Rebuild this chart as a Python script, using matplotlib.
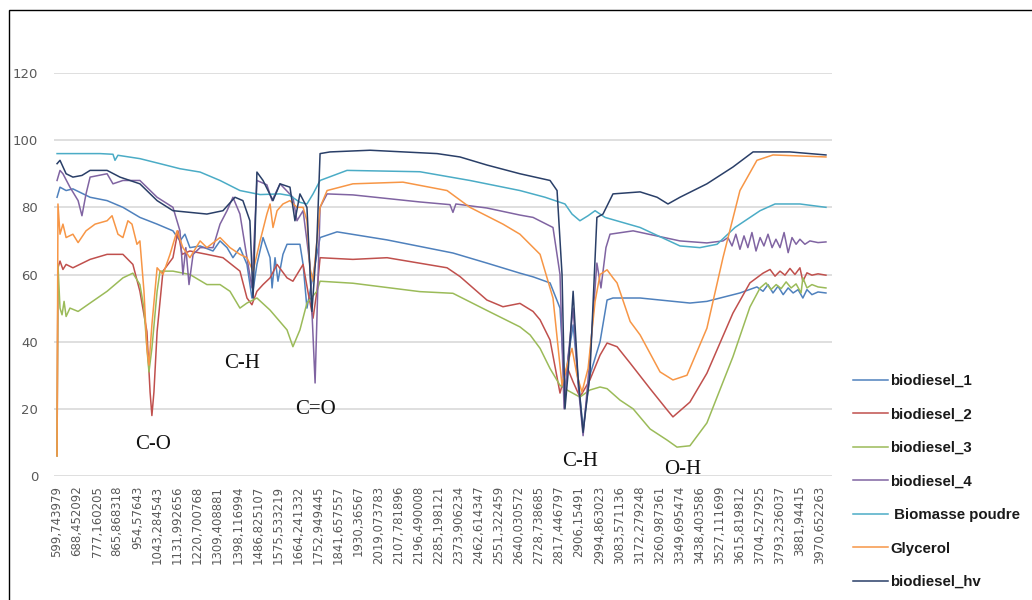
import matplotlib
matplotlib.use("Agg")
import matplotlib.pyplot as plt
from matplotlib.patches import Rectangle

# ---------------- data ----------------
tick_labels = ["599,743979", "688,452092", "777,160205", "865,868318", "954,57643",
               "1043,284543", "1131,992656", "1220,700768", "1309,408881", "1398,116994",
               "1486,825107", "1575,533219", "1664,241332", "1752,949445", "1841,657557",
               "1930,36567", "2019,073783", "2107,781896", "2196,490008", "2285,198121",
               "2373,906234", "2462,614347", "2551,322459", "2640,030572", "2728,738685",
               "2817,446797", "2906,15491", "2994,863023", "3083,571136", "3172,279248",
               "3260,987361", "3349,695474", "3438,403586", "3527,111699", "3615,819812",
               "3704,527925", "3793,236037", "3881,94415", "3970,652263"]
tick_values = [float(s.replace(",", ".")) for s in tick_labels]

b1_x = [600, 613, 640, 670, 746, 821, 891, 966, 1042, 1112, 1143, 1165, 1187, 1232, 1289, 1320,
        1351, 1377, 1408, 1439, 1461, 1483, 1510, 1541, 1550, 1563, 1576, 1598, 1616, 1673, 1687,
        1704, 1726, 1762, 1837, 2058, 2349, 2499, 2645, 2703, 2778, 2822, 2844, 2857, 2880, 2901,
        2924, 2954, 2999, 3030, 3056, 3176, 3396, 3471, 3617, 3692, 3719, 3741, 3763, 3785, 3808,
        3830, 3852, 3874, 3895, 3913, 3935, 3962, 3997]
b1_y = [83, 86, 85, 85.5, 83, 82, 80, 77, 75, 73, 70, 72, 68, 68.5, 67, 70,
        68, 65, 68, 63, 53, 63, 71, 65, 56, 65, 58, 66, 69, 69, 63,
        50, 58, 71, 72.7, 70.3, 66.4, 63.4, 60.4, 59.3, 57.5, 50, 25, 35, 45, 30,
        14, 30, 40, 52.4, 53, 53, 51.5, 52, 54.5, 56.3, 55, 57, 54.5, 56.5, 54,
        56, 54.5, 55.5, 53, 55.5, 54, 54.8, 54.5]

b2_x = [600, 604, 613, 626, 640, 670, 746, 821, 891, 935, 966, 997, 1011, 1019, 1028, 1042,
        1068, 1112, 1134, 1152, 1187, 1262, 1333, 1408, 1439, 1461, 1483, 1510, 1541, 1572,
        1616, 1642, 1687, 1708, 1731, 1748, 1762, 1907, 2058, 2323, 2380, 2499, 2570, 2645,
        2703, 2734, 2778, 2822, 2853, 2880, 2910, 2954, 2999, 3030, 3074, 3132, 3220, 3295,
        3321, 3396, 3471, 3586, 3661, 3719, 3750, 3772, 3794, 3816, 3838, 3860, 3882, 3895,
        3913, 3935, 3962, 3997]
b2_y = [6, 62, 64, 61.5, 63, 62, 64.5, 66, 66, 63, 55, 43, 25, 18, 25, 43,
        61, 65, 73, 66, 67, 66, 65, 61, 53, 51, 55, 57, 59, 63,
        59, 58, 63, 55, 47, 55, 65, 64.5, 65, 62, 59.4, 52.4, 50.4, 51.4,
        49, 46.5, 40.5, 24.7, 32.5, 28, 23.5, 28.6, 36, 39.6, 38.5, 33.6, 26, 19.7,
        17.6, 22, 30.6, 48.5, 57.5, 60.4, 61.5, 59.5, 61, 59.8, 61.8, 60, 62, 58,
        60.5, 59.8, 60.2, 59.8]

b3_x = [600, 604, 613, 622, 631, 640, 657, 693, 746, 821, 891, 935, 966, 984, 997, 1006,
        1019, 1042, 1055, 1112, 1187, 1262, 1320, 1364, 1408, 1439, 1483, 1541, 1616, 1642,
        1673, 1704, 1748, 1762, 1907, 2203, 2349, 2499, 2645, 2690, 2734, 2778, 2822, 2853,
        2910, 2954, 2999, 3030, 3087, 3145, 3220, 3295, 3339, 3396, 3471, 3586, 3661, 3706,
        3732, 3754, 3777, 3799, 3821, 3843, 3865, 3887, 3895, 3913, 3935, 3962, 3997]
b3_y = [6, 63, 50, 48, 52, 47.5, 50, 49, 51.5, 55, 59, 60.4, 57, 50, 38, 31,
        38, 55, 61, 61, 60, 57, 57, 55, 50, 51.5, 53, 49.4, 43.5, 38.5,
        43.5, 51.5, 55, 58, 57.4, 54.9, 54.4, 49.3, 44.4, 42, 38, 32, 27, 25.6,
        23.5, 25.6, 26.5, 26, 22.6, 20, 14, 10.7, 8.6, 9, 15.8, 35.5, 50.3, 56,
        57.5, 55.5, 57, 55.8, 57.8, 56, 57.2, 54.5, 59, 56, 57, 56.3, 56]

b4_x = [600, 613, 626, 657, 693, 710, 728, 746, 821, 847, 891, 966, 1042, 1112, 1143, 1156,
        1169, 1183, 1201, 1232, 1289, 1320, 1351, 1377, 1408, 1439, 1461, 1483, 1527, 1550,
        1585, 1642, 1660, 1687, 1717, 1740, 1762, 1793, 1907, 2203, 2336, 2349, 2362, 2499,
        2645, 2703, 2791, 2822, 2840, 2857, 2880, 2901, 2924, 2954, 2985, 3003, 3025, 3043,
        3145, 3352, 3471, 3542, 3564, 3582, 3599, 3617, 3635, 3652, 3670, 3688, 3706, 3723,
        3741, 3759, 3776, 3794, 3812, 3830, 3847, 3865, 3882, 3904, 3926, 3962, 3997]
b4_y = [88, 91, 90, 86, 82, 77.5, 84, 89, 90, 87, 88, 88, 83, 80, 73, 60,
        68, 57, 66, 68, 68, 75, 79, 83, 78, 65, 56, 88, 86.7, 82,
        87, 83, 76, 79, 63, 27.7, 80, 84, 83.7, 81.6, 80.8, 78.5, 81, 79.8,
        77.7, 77, 74, 60, 20, 35, 50, 28, 12, 35, 63.4, 56, 68, 72,
        73, 70, 69.4, 70, 71, 68.5, 72, 67.5, 71.5, 68, 72.5, 67, 71, 68.5,
        72, 68, 70.5, 68, 72.5, 66.5, 71, 69, 70.5, 69, 70, 69.5, 69.7]

bp_x = [600, 790, 847, 856, 869, 966, 1055, 1143, 1232, 1320, 1408, 1497, 1585, 1629, 1673,
        1704, 1731, 1762, 1881, 2203, 2424, 2645, 2756, 2844, 2875, 2910, 2946, 2977, 3021,
        3176, 3352, 3440, 3516, 3595, 3706, 3772, 3882, 3997]
bp_y = [96, 96, 95.8, 94, 95.5, 94.5, 93, 91.5, 90.5, 88, 85, 83.8, 84, 83.5, 81.5,
        81, 84, 88, 91, 90.6, 88, 85, 83, 81, 78, 76, 77.5, 79, 77,
        74, 68.5, 68, 69, 74, 79, 81, 81, 80]

gl_x = [600, 604, 613, 626, 640, 670, 693, 728, 768, 821, 843, 869, 891, 913, 931, 953, 966,
        984, 997, 1006, 1019, 1042, 1068, 1099, 1130, 1156, 1187, 1232, 1262, 1320, 1364,
        1408, 1439, 1466, 1497, 1527, 1541, 1554, 1572, 1598, 1629, 1660, 1687, 1704, 1717,
        1731, 1748, 1762, 1793, 1907, 2128, 2323, 2424, 2570, 2645, 2734, 2791, 2831, 2853,
        2875, 2897, 2919, 2946, 2977, 2999, 3030, 3056, 3074, 3132, 3176, 3264, 3321, 3383,
        3471, 3542, 3617, 3692, 3763, 3997]
gl_y = [6, 81, 72, 75, 71, 72, 69.5, 73, 75, 76, 77.5, 72, 71, 76, 75, 69, 70,
        55, 38, 33, 45, 62, 60, 66, 73, 68, 65, 70, 68, 71, 68,
        66, 65, 61, 70, 78, 81, 74, 79, 81, 82, 80, 80, 76, 62,
        58, 70, 80, 85, 87, 87.5, 85, 80, 75, 72, 66, 53, 27, 33,
        38, 30, 25, 32, 52, 60, 61.4, 59, 57.5, 46, 42, 31, 28.6, 30,
        44, 65, 85, 94, 95.6, 95]

hv_x = [600, 613, 640, 670, 710, 746, 821, 878, 966, 1042, 1112, 1187, 1262, 1333, 1386,
        1421, 1452, 1466, 1483, 1510, 1554, 1585, 1629, 1651, 1673, 1704, 1726, 1748, 1762,
        1806, 1983, 2279, 2380, 2499, 2645, 2778, 2809, 2831, 2844, 2857, 2880, 2901, 2924,
        2954, 2985, 3012, 3056, 3176, 3251, 3299, 3352, 3471, 3586, 3675, 3838, 3997]
hv_y = [93, 94, 90, 89, 89.5, 91, 91, 89, 87, 82, 79, 78.5, 78, 79, 83,
        82, 76, 53, 90.5, 88, 82, 87, 86, 76, 84, 80, 49, 70, 96,
        96.5, 97, 96, 95, 92.6, 90, 88, 85, 60, 20, 30, 55, 30, 13,
        30, 77, 78, 84, 84.6, 83, 81, 83, 87, 92, 96.5, 96.5, 95.6]

series = [
    ("biodiesel_1", b1_x, b1_y, "#4F81BD"),
    ("biodiesel_2", b2_x, b2_y, "#C0504D"),
    ("biodiesel_3", b3_x, b3_y, "#9BBB59"),
    ("biodiesel_4", b4_x, b4_y, "#8064A2"),
    (" Biomasse poudre", bp_x, bp_y, "#4BACC6"),
    ("Glycerol", gl_x, gl_y, "#F79646"),
    ("biodiesel_hv", hv_x, hv_y, "#2A3F68"),
]

annotations = [("C-O", 1024, 9.5), ("C-H", 1417, 33.6), ("C=O", 1744, 19.7),
               ("C-H", 2910, 4.2), ("O-H", 3365, 1.8)]

# ---------------- figure ----------------
W, H = 1032, 600
fig = plt.figure(figsize=(W / 100, H / 100), dpi=100)
fig.patch.set_facecolor("white")
ax = fig.add_axes([54 / W, 1 - 476 / H, 778 / W, 403 / H])

for name, xs, ys, col in series:
    ax.plot(xs, ys, color=col, lw=1.1, label=name)

ax.set_xlim(586.5, 4023.7)
ax.set_ylim(0, 120)
ax.set_yticks(range(0, 121, 20))
ax.set_xticks(tick_values)
ax.set_xticklabels(tick_labels, rotation=90, fontsize=8.5, color="#595959",
                   family="DejaVu Sans")
ax.tick_params(axis="x", length=0, pad=7)
ax.tick_params(axis="y", length=0, pad=11.5, labelsize=9.5, labelcolor="#595959")
ax.grid(axis="y", color="#D9D9D9", lw=1.2)
ax.set_axisbelow(True)
for sp in ax.spines.values():
    sp.set_visible(False)

for txt, x, y in annotations:
    ax.text(x, y, txt, ha="center", va="center", fontsize=15,
            family="Liberation Serif", color="#111111")

leg = fig.legend(loc="upper left", bbox_to_anchor=(853 / W, 1 - 374 / H),
                 frameon=False, prop={"family": "Liberation Sans", "weight": "bold",
                                      "size": 10.8},
                 handlelength=2.3, handletextpad=0.2, labelspacing=1.3,
                 borderaxespad=0, borderpad=0)
for t in leg.get_texts():
    t.set_color("#1a1a1a")

fig.patches.append(Rectangle((9 / W, -0.1), 2, 1 - 10 / H + 0.1,
                             transform=fig.transFigure, fill=False,
                             edgecolor="black", lw=1))

fig.savefig("out.png", dpi=100)
